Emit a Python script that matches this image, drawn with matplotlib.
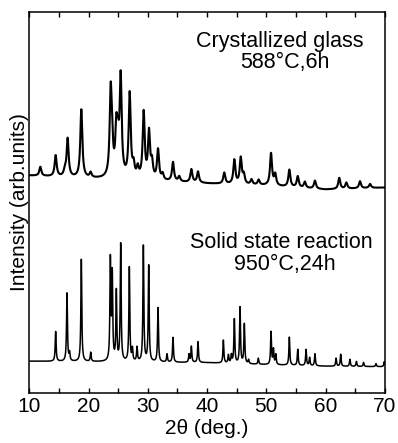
import numpy as np
import matplotlib
matplotlib.use('Agg')
import matplotlib.pyplot as plt

plt.rcParams['font.family'] = ['Liberation Sans', 'DejaVu Sans']

# Crystallized glass (588 C, 6h): peak positions (2theta) and heights above baseline
glass_pos = [11.86, 14.45, 16.0, 16.47, 18.78, 20.35, 23.73, 23.95, 24.69, 24.97,
             25.42, 26.94, 27.6, 28.3, 29.3, 30.2, 30.7, 31.72, 32.5, 34.25,
             35.3, 37.35, 38.47, 42.9, 44.6, 45.68, 46.2, 47.5, 48.7, 50.79,
             51.5, 53.88, 55.3, 56.5, 58.2, 62.3, 63.5, 65.8, 67.5]
glass_hgt = [9, 21, 6, 38, 68, 5, 80, 28, 44, 28,
             98, 84, 12, 10, 66, 46, 16, 30, 6, 19,
             5, 13, 11, 11, 24, 26, 9, 5, 5, 32,
             11, 17, 11, 6, 8, 11, 6, 7, 4]
glass_base_x = [10, 20, 30, 40, 50, 60, 70]
glass_base_y = [217, 214, 212, 209, 207, 203, 205]

# Solid state reaction (950 C, 24h)
ssr_pos = [14.45, 16.36, 16.8, 18.78, 20.36, 23.68, 24.0, 24.69, 25.42, 26.88,
           27.4, 28.18, 29.25, 30.15, 31.72, 33.24, 34.25, 36.95, 37.35, 38.47,
           42.75, 43.6, 44.1, 44.6, 45.56, 46.29, 47.0, 48.65, 50.79, 51.2,
           51.6, 53.88, 55.3, 56.7, 57.3, 58.2, 61.77, 62.55, 64.1, 65.2,
           66.4, 68.5, 69.9]
ssr_hgt = [30, 68, 8, 102, 9, 100, 85, 70, 117, 94,
           12, 14, 117, 97, 54, 8, 25, 8, 16, 21,
           23, 8, 8, 44, 56, 40, 4, 6, 33, 15,
           10, 28, 16, 16, 8, 12, 8, 12, 7, 5,
           4, 3, 5]
ssr_base_x = [10, 20, 30, 40, 50, 60, 70]
ssr_base_y = [31.5, 31, 30.5, 30, 28, 26.5, 26]

tth = np.arange(10, 70.001, 0.02)


def pattern(pos, hgt, bx, by, fwhm):
    y = np.interp(tth, bx, by)
    g = fwhm / 2
    for p, h in zip(pos, hgt):
        y = y + h * g**2 / ((tth - p)**2 + g**2)
    return y


glass = pattern(glass_pos, glass_hgt, glass_base_x, glass_base_y, 0.4)
ssr = pattern(ssr_pos, ssr_hgt, ssr_base_x, ssr_base_y, 0.18)

fig = plt.figure(figsize=(3.98, 4.43), dpi=100)
ax = fig.add_axes([0.0736, 0.1135, 0.8934, 0.8585])
ax.plot(tth, glass, color='black', lw=1.5)
ax.plot(tth, ssr, color='black', lw=1.1)

ax.set_xlim(10, 70)
ax.set_ylim(0, 380)
ax.set_xticks([10, 20, 30, 40, 50, 60, 70])
ax.set_xticks(np.arange(15, 70, 10), minor=True)
ax.tick_params(axis='x', which='both', direction='in', top=True, length=3.5,
               width=1.0, labelsize=15, pad=3)
ax.tick_params(axis='y', left=False, labelleft=False)
for s in ax.spines.values():
    s.set_linewidth(1.1)

ax.set_xlabel('2θ (deg.)', fontsize=15, labelpad=2)
ax.set_ylabel('Intensity (arb.units)', fontsize=15, labelpad=0.5)

ax.text(52.25, 345, 'Crystallized glass', fontsize=15.5, ha='center', va='baseline')
ax.text(53.2, 324, '588°C,6h', fontsize=15.5, ha='center', va='baseline')
ax.text(52.45, 145, 'Solid state reaction', fontsize=15.5, ha='center', va='baseline')
ax.text(53.2, 123, '950°C,24h', fontsize=15.5, ha='center', va='baseline')

fig.savefig('out.png', dpi=100)
